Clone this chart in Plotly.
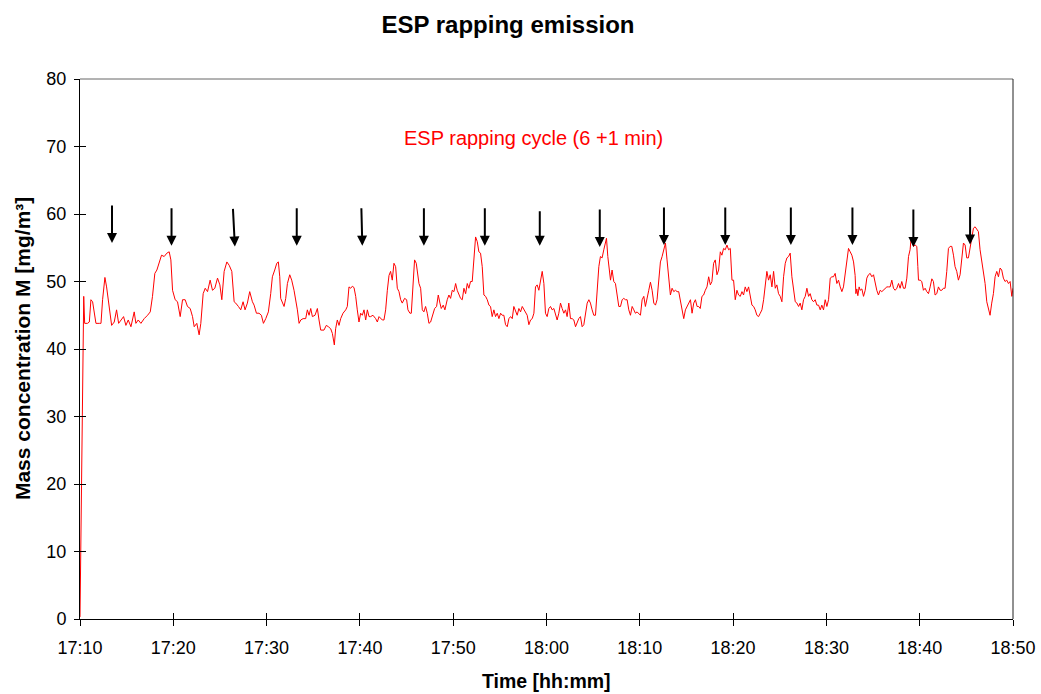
import pandas as pd
import plotly.graph_objects as go

# ---- data: minutes after 17:10 and mass concentration [mg/m3] ----
minutes = [
    0.0, 0.4, 0.5, 0.8, 1.0, 1.17, 1.35, 1.53, 1.71, 2.07, 2.25, 2.42, 2.67, 2.85, 3.14, 3.39, 3.67, 3.92,
    4.14, 4.39, 4.67, 4.92, 5.17, 5.46, 5.81, 5.99, 6.24, 6.53, 6.88, 7.24, 7.53, 7.77, 8.02, 8.24, 8.49,
    8.74, 9.02, 9.31, 9.56, 9.74, 9.92, 10.2, 10.45, 10.74, 10.99, 11.27, 11.52, 11.81, 12.06, 12.24, 12.52,
    12.77, 12.95, 13.2, 13.42, 13.67, 13.95, 14.2, 14.45, 14.74, 14.99, 15.2, 15.45, 15.74, 15.99,
    16.27, 16.52, 16.69, 16.98, 17.23, 17.48, 17.69, 17.94, 18.19, 18.48, 18.66, 18.91, 19.19, 19.44, 19.66,
    19.91, 20.19, 20.44, 20.62, 20.87, 21.09, 21.26, 21.41, 21.51, 21.69, 21.87, 22.05, 22.23, 22.48, 22.69,
    22.94, 23.12, 23.3, 23.48, 23.66, 23.91, 24.19, 24.37, 24.55, 24.73, 24.91, 25.19, 25.44, 25.62, 25.8,
    26.15, 26.4, 26.62, 26.87, 27.05, 27.26, 27.4, 27.58, 27.76, 27.94, 28.19, 28.48, 28.65, 28.83, 29.01,
    29.19, 29.37, 29.55, 29.72, 29.9, 30.08, 30.26, 30.44, 30.62, 30.8, 30.98, 31.15, 31.4, 31.69, 31.87,
    32.05, 32.22, 32.4, 32.58,
    32.76, 32.94, 33.12, 33.29, 33.47, 33.65, 33.83, 34.01, 34.19, 34.37, 34.54, 34.79, 35.01, 35.15, 35.36,
    35.51, 35.69, 35.86, 36.04, 36.15, 36.33, 36.51, 36.69, 36.86, 37.04, 37.22, 37.4, 37.58, 37.76, 38.01,
    38.22, 38.4, 38.58, 38.72, 38.93, 39.11, 39.36, 39.54, 39.72, 39.9, 40.08, 40.26, 40.43, 40.61, 40.79,
    40.97, 41.15, 41.33, 41.51, 41.68, 41.86, 42.04, 42.22, 42.4, 42.58, 42.75, 42.93, 43.11, 43.29, 43.47,
    43.65, 43.83, 44.0, 44.18, 44.36, 44.54, 44.72, 44.9, 45.08, 45.25, 45.43, 45.61, 45.79, 45.97, 46.15,
    46.33, 46.5, 46.68, 46.86, 47.04, 47.22, 47.4, 47.58, 47.75, 47.93, 48.11, 48.29, 48.47, 48.65, 48.82,
    49.0, 49.18, 49.36, 49.54,
    49.72, 49.89, 50.07, 50.25, 50.43, 50.61, 50.79, 50.97, 51.14, 51.32, 51.5, 51.68, 51.86, 52.04, 52.21,
    52.39, 52.57, 52.75, 52.93, 53.11, 53.29, 53.46, 53.64, 53.82, 54.0, 54.18, 54.36, 54.54, 54.71, 54.89,
    55.07, 55.25, 55.43, 55.61, 55.78, 55.96, 56.14, 56.32, 56.43, 56.57, 56.68, 56.86, 57.03, 57.21, 57.39,
    57.57, 57.75, 57.93, 58.11, 58.28, 58.46, 58.64, 58.82, 59.0, 59.18, 59.36, 59.53, 59.71, 59.89, 60.07,
    60.25, 60.43, 60.6, 60.78, 60.96, 61.14, 61.32, 61.5, 61.68, 61.85, 62.03, 62.21, 62.39, 62.57, 62.75,
    62.92, 63.1, 63.28, 63.46, 63.64, 63.82, 64.0, 64.17, 64.35, 64.53, 64.71, 64.89, 65.07, 65.25, 65.43,
    65.6, 65.78, 65.96, 66.14,
    66.31, 66.48, 66.66, 66.84, 67.02, 67.2, 67.38, 67.56, 67.73, 67.91, 68.09, 68.27, 68.45, 68.63, 68.8,
    68.98, 69.16, 69.34, 69.52, 69.7, 69.88, 70.05, 70.23, 70.41, 70.59, 70.77, 70.95, 71.12, 71.3, 71.48,
    71.66, 71.84, 72.02, 72.2, 72.37, 72.55, 72.73, 72.91, 73.09, 73.27, 73.45, 73.62, 73.8, 73.98, 74.16,
    74.34, 74.52, 74.69, 74.87, 75.05, 75.23, 75.41, 75.59, 75.77, 75.94, 76.12, 76.3, 76.48, 76.66, 76.84,
    77.02, 77.19, 77.37, 77.55, 77.73, 77.91, 78.09, 78.26, 78.44, 78.62, 78.8, 78.98, 79.16, 79.34, 79.51,
    79.69, 79.87, 80.05, 80.23, 80.41, 80.59, 80.76, 80.94, 81.12, 81.3, 81.48, 81.66, 81.83, 82.01, 82.19,
    82.37, 82.55, 82.73,
    82.91, 83.08, 83.16, 83.26, 83.37, 83.51, 83.62, 83.8, 83.98, 84.16, 84.33, 84.51, 84.69, 84.87, 85.05,
    85.23, 85.4, 85.58, 85.76, 85.94, 86.12, 86.3, 86.48, 86.65, 86.83, 87.01, 87.19, 87.37, 87.55, 87.73,
    87.9, 88.08, 88.26, 88.44, 88.62, 88.8, 88.97, 89.08, 89.22, 89.33, 89.51, 89.69, 89.8, 89.87, 90.05,
    90.22, 90.4, 90.58, 90.76, 90.94, 91.12, 91.3, 91.47, 91.65, 91.83, 92.01, 92.19, 92.37, 92.54, 92.72,
    92.9, 93.08, 93.26, 93.44, 93.62, 93.79, 93.97, 94.15, 94.33, 94.51, 94.69, 94.87, 95.04, 95.22, 95.4,
    95.58, 95.76, 95.94, 96.11, 96.29, 96.47, 96.65, 96.83, 97.01, 97.19, 97.36, 97.54, 97.72, 97.9, 98.08,
    98.26, 98.44, 98.62, 98.79, 98.97, 99.15, 99.33, 99.51, 99.69, 99.87, 100.0,
]

mass_conc = [
    0.3, 47.8, 43.8, 43.8, 44.0, 47.3, 47.0, 45.3, 43.8, 43.8, 43.8, 47.3, 50.6, 49.2, 46.3, 43.5, 44.0, 45.8,
    43.8, 44.3, 44.8, 43.5, 44.3, 43.3, 45.5, 43.8, 44.3, 43.8, 44.5, 45.0, 45.5, 47.8, 51.2, 51.7, 52.7,
    53.9, 53.7, 54.2, 54.4, 53.2, 48.7, 47.3, 47.0, 44.8, 47.3, 47.3, 46.3, 46.0, 44.8, 43.3, 43.8,
    42.1, 43.8, 48.2, 49.0, 48.5, 50.2, 48.7, 49.0, 50.5, 49.5, 47.3, 51.5, 52.9, 52.4,
    51.5, 47.0, 46.8, 46.3, 45.8, 47.0, 45.8, 46.8, 48.5, 47.0, 46.5, 45.3, 45.3, 45.0, 43.8,
    44.5, 45.5, 48.2, 50.7, 51.7, 52.7, 52.9, 50.7, 47.5, 47.0, 46.3, 47.5, 49.7, 51.0, 50.2,
    48.7, 47.3, 45.8, 43.8, 44.3, 44.5, 44.5, 45.8, 45.0, 46.0, 44.8, 45.0, 46.0, 44.3, 42.8,
    42.8, 43.5, 43.3, 43.0, 42.3, 40.6, 43.0, 44.3, 43.5, 44.5, 45.3, 45.8, 46.3, 49.2, 49.0,
    49.3, 49.1, 47.8, 45.8, 44.0, 45.3, 45.0, 45.8, 44.3, 45.8, 44.8, 44.8, 45.0, 44.5, 44.0,
    44.8, 44.5, 44.3, 44.3,
    45.8, 48.7, 50.9, 51.5, 50.2, 52.7, 52.2, 49.0, 48.5, 47.3, 46.8, 47.5, 47.3, 45.8, 45.3,
    45.3, 49.7, 53.2, 52.7, 51.5, 49.7, 49.0, 45.8, 45.5, 46.3, 45.3, 43.8, 44.0, 45.0, 46.0,
    46.3, 48.0, 46.8, 46.0, 46.5, 45.8, 47.3, 48.0, 47.5, 48.7, 48.5, 49.7, 48.7, 48.2, 47.5,
    47.3, 49.0, 48.2, 49.7, 49.0, 50.0, 50.0, 53.7, 56.6, 55.9, 54.4, 54.2, 52.2, 48.0, 47.8,
    47.3, 46.5, 46.3, 44.8, 45.8, 44.8, 45.3, 44.5, 45.3, 45.0, 45.0, 43.6, 43.3, 44.5, 44.8,
    44.5, 46.3, 45.5, 45.0, 46.0, 45.5, 46.3, 45.8, 45.5, 45.0, 43.6, 44.3, 44.5, 45.3, 49.2,
    49.5, 48.7, 50.2, 51.5,
    49.7, 45.3, 44.8, 46.0, 46.3, 45.8, 46.0, 45.0, 44.3, 45.3, 46.8, 46.0, 45.3, 45.8, 44.8,
    46.8, 44.5, 44.5, 44.3, 43.3, 44.0, 44.5, 44.8, 43.3, 43.6, 45.3, 46.8, 47.3, 46.8, 45.8,
    45.0, 45.0, 49.2, 52.2, 53.7, 53.5, 54.7, 56.1, 56.4, 53.7, 52.2, 50.2, 51.7, 50.0, 49.7,
    47.8, 46.3, 46.3, 47.3, 47.5, 47.3, 47.3, 45.8, 45.0, 46.3, 45.8, 45.3, 45.5, 45.3, 45.0,
    47.3, 47.8, 46.3, 47.3, 48.7, 49.9, 48.7, 46.8, 46.5, 47.3, 50.2, 52.9, 53.7, 54.9, 55.7,
    53.2, 50.7, 48.0, 49.0, 48.5, 48.7, 48.5, 48.5, 47.3, 45.8, 44.5, 45.8, 46.3, 47.0, 47.3,
    45.3, 46.8, 47.3, 46.3,
    46.3, 46.0, 47.8, 48.0, 48.7, 49.2, 50.7, 49.5, 50.0, 52.7, 53.2, 51.0, 51.7, 54.4, 53.9,
    54.9, 54.7, 55.4, 54.7, 54.9, 50.2, 50.2, 47.3, 48.7, 48.0, 47.8, 48.5, 48.0, 49.2, 48.5,
    49.2, 48.0, 46.5, 46.3, 45.8, 45.0, 44.8, 45.3, 45.8, 47.3, 49.2, 51.5, 50.2, 51.0, 49.2,
    51.5, 49.0, 49.5, 48.2, 47.8, 47.0, 50.7, 52.7, 53.5, 53.7, 54.2, 50.7, 48.7, 47.0, 46.8,
    46.3, 46.8, 45.8, 47.3, 47.8, 49.0, 47.8, 48.2, 47.3, 47.0, 47.3, 46.5, 46.5, 45.8, 46.5,
    45.8, 47.3, 46.3, 47.3, 50.5, 50.7, 50.7, 51.2, 49.7, 50.2, 49.2, 48.5, 49.2, 51.2, 53.2,
    54.9, 54.4, 53.9,
    52.9, 50.9, 48.2, 48.9, 47.9, 49.2, 48.7, 48.9, 47.8, 48.7, 50.5, 51.0, 51.2, 50.7, 51.0,
    49.7, 48.7, 48.0, 48.7, 48.5, 48.7, 49.0, 49.2, 49.2, 49.2, 50.2, 49.0, 48.7, 49.0, 49.7,
    49.0, 50.0, 49.0, 49.0, 50.5, 53.7, 54.7, 56.4, 55.9, 55.2, 55.4, 55.2, 52.2, 50.2, 50.2,
    50.0, 48.7, 49.0, 48.5, 48.2, 49.2, 50.4, 50.0, 48.0, 48.2, 49.2, 48.7, 48.7, 49.0, 49.0,
    51.5, 54.9, 55.2, 55.2, 53.9, 52.2, 51.5, 50.2, 51.0, 53.0, 55.7, 55.4, 53.5, 53.5, 55.2,
    56.9, 57.9, 58.1, 57.7, 57.4, 54.7, 53.2, 51.5, 49.7, 47.0, 46.0, 45.0, 46.8, 48.2, 50.7,
    51.5, 50.7, 52.0, 51.7, 50.5, 50.0, 50.2, 49.7, 50.0, 47.8, 49.0,
]

# rapping events (arrows): minutes after 17:10 and arrow tip level [mg/m3]
rap_minutes = [3.43, 9.81, 16.6, 23.23, 30.26, 36.86, 43.39, 49.28, 55.71, 62.59, 69.16, 76.19, 82.79, 89.32, 95.4]
rap_tip_level = [55.7, 55.3, 55.2, 55.3, 55.3, 55.3, 55.3, 55.3, 55.1, 55.4, 55.4, 55.4, 55.4, 55.1, 55.5]

y_ticks = [0, 10, 20, 30, 40, 50, 60, 70, 80]

base = pd.Timestamp("2000-01-01 17:10")
t = base + pd.to_timedelta(minutes, unit="m")
t_rap = base + pd.to_timedelta(rap_minutes, unit="m")
t_end = base + pd.Timedelta(minutes=100)

FONT = "Liberation Sans, Arial, sans-serif"

fig = go.Figure()
fig.add_trace(go.Scatter(x=t, y=mass_conc, mode="lines",
                         line=dict(color="#FF0000", width=1), showlegend=False,
                         hoverinfo="skip"))
# helper trace for overlay axes (inside half of crossing ticks)
fig.add_trace(go.Scatter(x=[base], y=[0], mode="markers", marker=dict(opacity=0),
                         xaxis="x2", yaxis="y2", showlegend=False, hoverinfo="skip"))

tilt = {2: -2, 4: -1}
for i, (tx, lv) in enumerate(zip(t_rap, rap_tip_level)):
    fig.add_annotation(x=tx, y=lv, xref="x", yref="y", showarrow=True,
                       ax=tilt.get(i, 0), ay=-36 if i == 7 else -39,
                       arrowhead=2, arrowwidth=2, arrowsize=1, arrowcolor="#000000",
                       standoff=0, text="")

fig.add_annotation(x=0.4863, y=0.8907, xref="paper", yref="paper",
                   text="ESP rapping cycle (6 +1 min)", showarrow=False,
                   font=dict(family=FONT, size=20, color="#FF0000"),
                   xanchor="center", yanchor="middle")

# axis titles
fig.add_annotation(x=0.5, y=-0.1148, xref="paper", yref="paper",
                   text="<b>Time [hh:mm]</b>", showarrow=False,
                   font=dict(family=FONT, size=19.5, color="#000000"),
                   xanchor="center", yanchor="middle")
fig.add_annotation(x=-0.0621, y=0.5, xref="paper", yref="paper",
                   text="<b>Mass concentration M [mg/m³]</b>", showarrow=False, textangle=-90,
                   font=dict(family=FONT, size=21, color="#000000"),
                   xanchor="center", yanchor="middle")

# frame: grey top, black right
fig.add_shape(type="line", xref="paper", yref="paper", x0=0, x1=1, y0=1, y1=1,
              line=dict(color="#666666", width=1))
fig.add_shape(type="line", xref="paper", yref="paper", x0=1, x1=1, y0=0, y1=1,
              line=dict(color="#222222", width=1))

xcommon = dict(type="date", range=[base, t_end], tick0=base, dtick=600000,
               showgrid=False, zeroline=False, automargin=False)
ycommon = dict(range=[0, 80], tickvals=y_ticks, showgrid=False, zeroline=False, automargin=False)

fig.update_layout(
    width=1041, height=694,
    margin=dict(l=80, r=27.5, t=79, b=75, autoexpand=False),
    paper_bgcolor="white", plot_bgcolor="white",
    font=dict(family=FONT, size=18, color="#000000"),
    title=dict(text="<b>ESP rapping emission</b>", x=0.488, xref="container", xanchor="center",
               y=1 - 25 / 694, yref="container", yanchor="middle",
               font=dict(family=FONT, size=24, color="#000000"), automargin=False),
    xaxis=dict(**xcommon, tickformat="%H:%M", showline=True, linecolor="#000000", linewidth=1,
               ticks="outside", ticklen=6, tickcolor="#000000", tickwidth=1, ticklabelstandoff=6,
               tickfont=dict(family=FONT, size=18, color="#000000")),
    yaxis=dict(**ycommon, showline=True, linecolor="#000000", linewidth=1,
               ticks="outside", ticklen=5, tickcolor="#000000", tickwidth=1, ticklabelstandoff=4,
               tickfont=dict(family=FONT, size=18, color="#000000")),
    xaxis2=dict(**xcommon, overlaying="x", anchor="y", side="bottom", showline=False,
                showticklabels=False, ticks="inside", ticklen=6, tickcolor="#000000", tickwidth=1),
    yaxis2=dict(**ycommon, overlaying="y", anchor="x", side="left", showline=False,
                showticklabels=False, ticks="inside", ticklen=6, tickcolor="#000000", tickwidth=1),
)

fig.write_html("out.html")
